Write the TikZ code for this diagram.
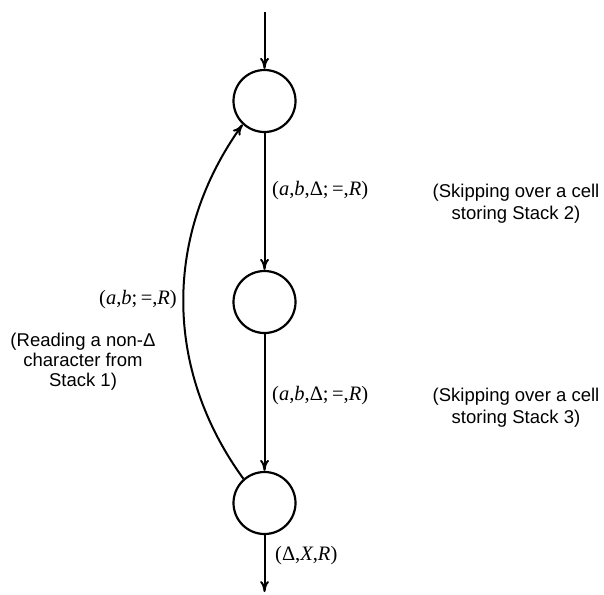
\documentclass[tikz,border=0pt]{standalone}
\usepackage{fontspec}
\setmainfont{Liberation Serif}
\newfontfamily\sansf{Liberation Sans}
\usetikzlibrary{arrows.meta}
\begin{document}
\begin{tikzpicture}[x=1pt,y=-1pt,
  state/.style={circle,draw,line width=2.2pt,minimum size=62pt,inner sep=0pt},
  edge/.style={line width=2pt,-{To[length=11pt,width=9pt]}},
  lab/.style={font=\fontsize{20.5}{22}\selectfont,inner sep=0pt},
  note/.style={font=\sansf\fontsize{18.5}{22}\selectfont,align=center,inner sep=0pt}]
\useasboundingbox (0,0) rectangle (604,594);
\node[state] (t) at (264.5,101) {};
\node[state] (m) at (264.5,302) {};
\node[state] (b) at (264.5,503) {};
\coordinate (in) at (264.5,12);
\coordinate (out) at (264.5,592);
\draw[edge] (in) -- (t);
\draw[edge] (t) -- (m);
\draw[edge] (m) -- (b);
\draw[edge] (b) -- (out);
\draw[edge] (b.131) .. controls +(-80,-110) and +(-79,110) .. (t.227);
\node[lab,anchor=west] (l1) at (272,191) {(\textit{a},\textit{b},Δ;\,=,\textit{R})};
\node[lab,anchor=west] (l2) at (272,396) {(\textit{a},\textit{b},Δ;\,=,\textit{R})};
\node[lab,anchor=west] (l3) at (275,556) {(Δ,\textit{X},\textit{R})};
\node[lab,anchor=east] (l4) at (177,300) {(\textit{a},\textit{b};\,=,\textit{R})};
\node[note] (n1) at (516,204) {(Skipping over a cell\\storing Stack 2)};
\node[note] (n2) at (516,408) {(Skipping over a cell\\storing Stack 3)};
\node[note,font=\sansf\fontsize{18.5}{20}\selectfont] (n3) at (83,362) {(Reading a non-Δ\\character from\\Stack 1)};
\end{tikzpicture}
\end{document}
